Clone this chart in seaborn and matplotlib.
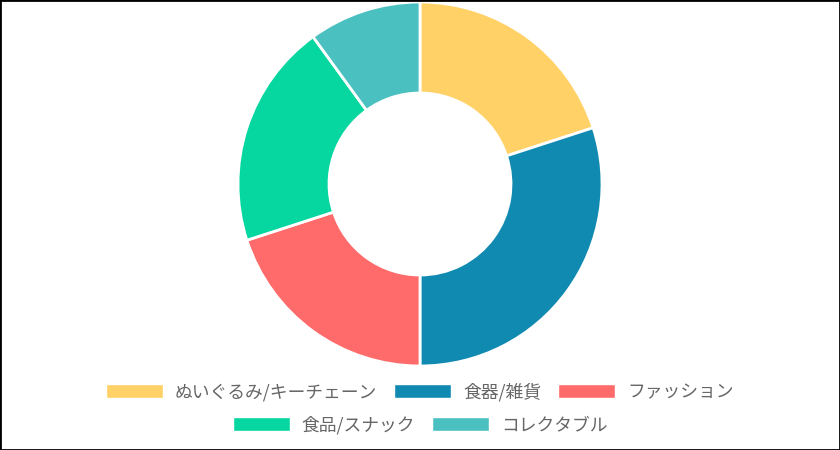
import matplotlib
matplotlib.use('Agg')
import matplotlib.pyplot as plt
import matplotlib.patches as mpatches
import seaborn as sns

# データ
labels = ['ぬいぐるみ/キーチェーン', '食器/雑貨', 'ファッション', '食品/スナック', 'コレクタブル']
values = [20, 30, 20, 20, 10]
colors = ['#FFD166', '#118AB2', '#FF6B6B', '#06D6A0', '#4BC0C0']

sns.set_theme(style='white')
plt.rcParams['font.family'] = ['Noto Sans CJK JP', 'DejaVu Sans']

fig = plt.figure(figsize=(8.4, 4.5), dpi=100)
fig.patch.set_facecolor('white')

# ドーナツ
ax = fig.add_axes([(420 - 182) / 840, (450 - 184 - 182) / 450, 364 / 840, 364 / 450])
ax.pie(values, colors=colors, startangle=90, counterclock=False,
       wedgeprops=dict(width=0.5, edgecolor='white', linewidth=2))
ax.set_xlim(-1.0, 1.0)
ax.set_ylim(-1.0, 1.0)
ax.set_aspect('equal')
ax.axis('off')

# 凡例（2行、中央揃え）
fs = 12.8
px = fs * 100 / 72
handles = [mpatches.Patch(facecolor=c, edgecolor='white', linewidth=1) for c in colors]
leg_kw = dict(frameon=False, fontsize=fs, handlelength=57 / px, handleheight=14 / px,
              handletextpad=12 / px, columnspacing=17 / px, labelcolor='#666666',
              loc='center', borderaxespad=0, borderpad=0)
leg1 = fig.legend(handles[:3], labels[:3], ncol=3, bbox_to_anchor=(0.5, 1 - 392 / 450), **leg_kw)
leg2 = fig.legend(handles[3:], labels[3:], ncol=2, bbox_to_anchor=(0.5, 1 - 425 / 450), **leg_kw)

# 枠線
border = mpatches.Rectangle((0, 0), 1, 1, transform=fig.transFigure, fill=False,
                            edgecolor='black', linewidth=2)
fig.patches.append(border)

fig.savefig('out.png', dpi=100)
